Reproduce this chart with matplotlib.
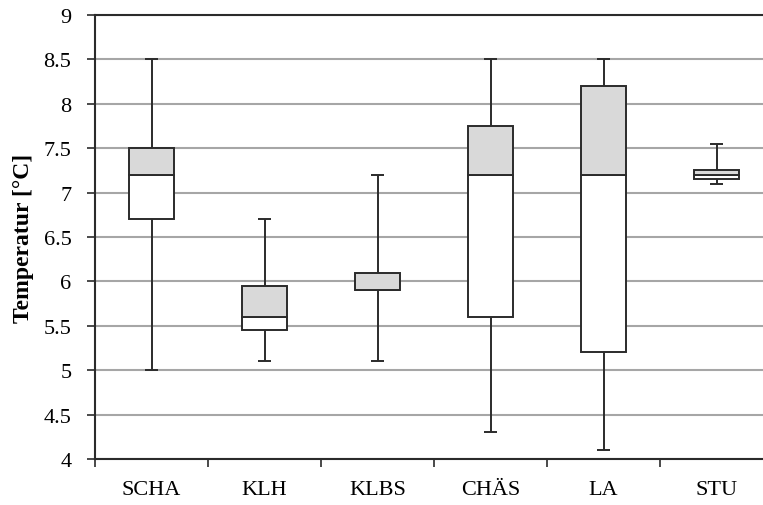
import matplotlib
matplotlib.use("Agg")
import matplotlib.pyplot as plt
import numpy as np

categories = ["SCHA", "KLH", "KLBS", "CHÄS", "LA", "STU"]
mins    = [5.0, 5.1, 5.1, 4.3, 4.1, 7.1]
q1      = [6.7, 5.45, 5.9, 5.6, 5.2, 7.15]
medians = [7.2, 5.6, 5.9, 7.2, 7.2, 7.2]
q3      = [7.5, 5.95, 6.1, 7.75, 8.2, 7.25]
maxs    = [8.5, 6.7, 7.2, 8.5, 8.5, 7.55]
yticks  = [4, 4.5, 5, 5.5, 6, 6.5, 7, 7.5, 8, 8.5, 9]

plt.rcParams['font.family'] = ['Liberation Serif', 'DejaVu Serif']

fig = plt.figure(figsize=(7.63, 5.06), dpi=100)
W, H = 763, 506
ax = fig.add_axes([95 / W, 46 / H, 678 / W, 444 / H])

edge = "#2b2b2b"
lw = 1.4
x = np.arange(len(categories)) + 0.5
bw = 0.4
cap = 0.12

mins_a, q1_a, med_a, q3_a, max_a = map(np.array, (mins, q1, medians, q3, maxs))

ax.vlines(x, q3_a, max_a, color=edge, lw=lw, zorder=2)
ax.vlines(x, mins_a, q1_a, color=edge, lw=lw, zorder=2)
ax.hlines(max_a, x - cap / 2, x + cap / 2, color=edge, lw=lw, zorder=2)
ax.hlines(mins_a, x - cap / 2, x + cap / 2, color=edge, lw=lw, zorder=2)
ax.bar(x, med_a - q1_a, bottom=q1_a, width=bw, color="white", edgecolor=edge, linewidth=lw, zorder=3)
ax.bar(x, q3_a - med_a, bottom=med_a, width=bw, color="#d9d9d9", edgecolor=edge, linewidth=lw, zorder=3)

ax.set_xlim(0, 6)
ax.set_ylim(4, 9)
ax.set_yticks(yticks)
ax.set_yticklabels([f"{v:g}" for v in yticks], fontsize=16)
ax.yaxis.grid(True, color="#a6a6a6", linewidth=1.5)
ax.set_axisbelow(True)

ax.set_xticks(np.arange(0, 7))
ax.set_xticklabels([])
ax.set_xticks(x, minor=True)
ax.set_xticklabels(categories, minor=True, fontsize=16)
ax.tick_params(axis="x", which="minor", length=0, pad=15)
ax.tick_params(axis="x", which="major", length=6, width=1.2, color=edge)
ax.tick_params(axis="y", length=6, width=1.2, color=edge, pad=11)

for s in ["left", "bottom", "top"]:
    ax.spines[s].set_color(edge)
    ax.spines[s].set_linewidth(1.5)
ax.spines["right"].set_visible(False)

ax.set_ylabel("Temperatur [°C]", fontsize=17, fontweight="bold", labelpad=7)

fig.savefig("out.png", dpi=100)
